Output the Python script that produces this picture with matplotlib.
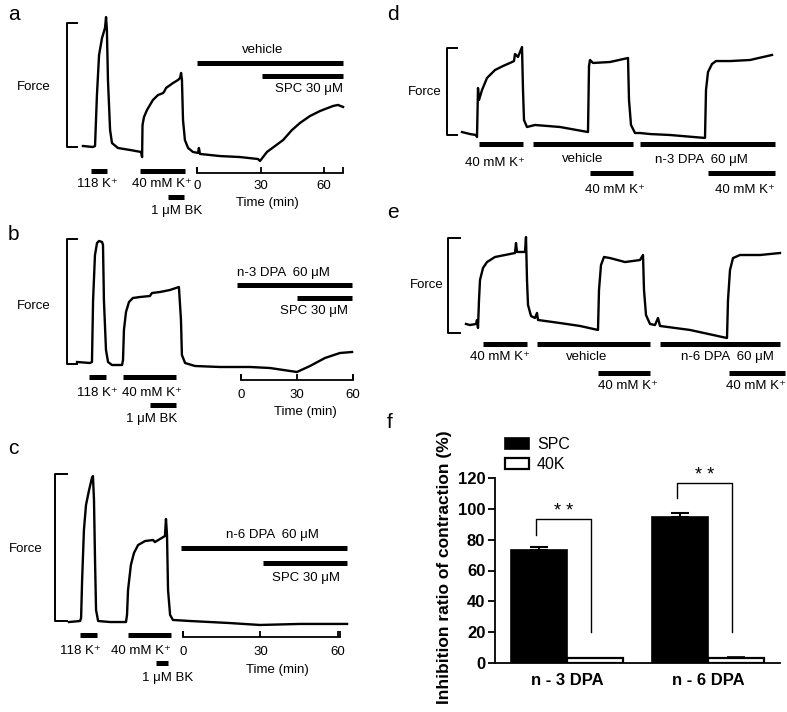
import numpy as np
import matplotlib
matplotlib.use('Agg')
import matplotlib.pyplot as plt

plt.rcParams['font.family'] = ['Liberation Sans', 'DejaVu Sans']

W, H = 787, 712
TXT = 9.5

# ---------------- data ----------------
# traces: time in min (0 = start of treatment), force in % of the scale bar
# panel a: vehicle then SPC
a_time = [-53.8, -49.1, -48.1, -47.2, -46.2, -44.8, -43.4, -42.9, -42.5, -42.0, -41.0, -40.1,
          -37.3, -31.6, -26.4, -25.9, -25.7, -25.0, -23.6, -20.8, -18.4, -16.0, -15.3, -14.6,
          -11.3, -9.0, -8.0, -7.5, -7.1, -6.6, -5.7, -4.2, -1.9, 0.5, 0.9, 1.4, 10.8, 20.3,
          28.8, 29.7, 33.0, 36.8, 40.6, 44.8, 48.6, 53.3, 58.0, 64.2, 66.5, 68.9]
a_force = [0.8, 0.0, 0.8, 41.9, 74.2, 87.9, 96.0, 104.8, 94.4, 54.0, 13.7, 3.2,
           -0.8, -2.4, -4.0, -8.1, 17.7, 24.2, 29.8, 37.9, 41.9, 43.5, 45.2, 47.6,
           51.6, 54.0, 55.6, 59.7, 54.0, 21.8, 5.6, -0.8, -4.0, -4.8, -0.8, -5.6, -7.3, -8.1,
           -9.7, -11.3, -4.0, 0.8, 5.6, 13.7, 19.4, 25.0, 29.0, 33.1, 33.9, 32.3]
a_spans = [(-50.0, -42.5), (-26.9, -5.7), (-13.7, -6.1), (0.0, 68.9), (30.7, 68.9)]
a_names = ['118 K⁺', '40 mM K⁺', '1 μM BK', 'vehicle', 'SPC 30 μM']

# panel b: n-3 DPA then SPC
b_time = [-87.7, -80.7, -79.7, -79.1, -78.1, -77.0, -75.9, -74.3, -73.8, -73.3, -72.2, -71.1,
          -69.0, -63.6, -63.1, -62.6, -61.5, -59.9, -57.8, -54.0, -48.7, -47.6, -43.3, -38.0,
          -33.2, -32.1, -31.6, -29.9, -24.6, -11.2, 4.8, 15.5, 29.9, 36.9, 44.9, 52.9, 59.4]
b_force = [1.6, 0.8, 1.6, 51.0, 87.0, 96.8, 98.4, 97.6, 95.2, 51.0, 11.2, 1.6,
           -0.8, -0.8, 3.2, 27.2, 41.6, 49.6, 52.8, 53.6, 54.4, 56.8, 57.6, 59.2,
           61.6, 35.2, 7.2, 0.8, -1.6, -2.4, -2.4, -3.2, -6.4, -1.6, 4.8, 8.8, 9.6]
b_spans = [(-81.3, -72.2), (-63.1, -34.8), (-48.7, -34.8), (-2.1, 59.4), (29.9, 59.4)]
b_names = ['118 K⁺', '40 mM K⁺', '1 μM BK', 'n-3 DPA  60 μM', 'SPC 30 μM']

# panel c: n-6 DPA then SPC
c_time = [-44.2, -39.9, -39.5, -39.1, -38.4, -37.6, -36.4, -35.3, -34.9, -34.5, -34.1, -33.7,
          -32.9, -28.3, -22.1, -21.7, -21.3, -20.2, -19.0, -17.4, -14.7, -11.6, -10.9, -8.9,
          -7.0, -6.6, -6.2, -5.8, -5.0, -3.9, 2.7, 18.2, 29.8, 45.3, 63.6]
c_force = [-0.7, 0.0, 2.0, 27.9, 61.9, 78.9, 89.1, 97.3, 98.6, 82.3, 41.5, 7.5,
           0.0, -0.7, -0.7, 4.1, 21.1, 38.1, 46.3, 51.7, 54.4, 55.1, 53.7, 55.8,
           57.8, 69.4, 58.5, 21.1, 4.1, 0.7, 0.0, -1.4, -2.7, -2.0, -2.0]
c_spans = [(-39.9, -33.3), (-21.3, -4.7), (-10.5, -5.8), (-0.8, 63.6), (31.0, 63.6)]
c_names = ['118 K⁺', '40 mM K⁺', '1 μM BK', 'n-6 DPA  60 μM', 'SPC 30 μM']

# panel d: 40 mM K+ before/after vehicle and n-3 DPA (time from start of trace)
d_time = [0, 4, 7, 7.5, 8, 8.5, 10, 12.5, 16.5, 20.5, 24, 26, 26.5, 28, 30, 30.5, 31, 32.5,
          36.5, 49, 63, 63.5, 64, 65.5, 74, 83, 83.5, 84.5, 86.5, 89, 94, 104, 121.5,
          122, 123, 125, 127, 134, 144, 155]
d_force = [3.4, 1.1, 0.0, -2.3, 54.0, 40.2, 51.7, 65.5, 74.7, 79.3, 82.8, 85.0, 93.1, 89.7,
           101.1, 51.7, 17.2, 9.2, 11.5, 9.2, 3.4, 79.3, 86.2, 82.8, 83.9, 88.5, 40.2, 11.5,
           2.3, 2.3, 1.1, 0.0, -3.4, 51.7, 72.4, 81.6, 85.0, 85.0, 86.2, 92.0]
d_spans = [(8.5, 30.5), (35.5, 85.5), (89, 156.5), (64, 85.5), (123, 156.5)]
d_names = ['40 mM K⁺', 'vehicle', 'n-3 DPA  60 μM', '40 mM K⁺', '40 mM K⁺']

# panel e: 40 mM K+ before/after vehicle and n-6 DPA
e_time = [0, 2, 5, 5.5, 6, 6.5, 7, 8.5, 10.5, 14.5, 19.5, 24.5, 25, 25.5, 29.5, 30, 30.5, 31,
          32.5, 34.5, 35.5, 36, 47, 57, 66, 66.5, 67.5, 69, 72, 79.5, 87, 88.5, 89, 90, 92,
          94.5, 96, 97, 112, 130.5, 131, 132, 133.5, 137, 147, 157]
e_force = [9.5, 8.4, 9.5, 13.7, 5.3, 34.7, 55.8, 68.4, 74.7, 80.0, 82.1, 84.2, 94.7, 85.3,
           85.3, 101.0, 55.8, 29.5, 17.9, 15.8, 21.1, 13.7, 10.5, 7.4, 3.2, 45.3, 71.6, 80.0,
           78.9, 74.7, 76.8, 82.1, 45.3, 18.9, 9.5, 8.4, 15.8, 7.4, 3.2, -5.3, 34.7, 66.3,
           78.9, 82.1, 82.1, 84.2]
e_spans = [(8.5, 30.5), (35.5, 92), (97, 157), (66, 92), (131.5, 159.5)]
e_names = ['40 mM K⁺', 'vehicle', 'n-6 DPA  60 μM', '40 mM K⁺', '40 mM K⁺']

time_ticks = [0, 30, 60]

# panel f: inhibition ratio (%)
groups = ['n - 3 DPA', 'n - 6 DPA']
spc_mean = [73.0, 95.0]
spc_err = [2.5, 2.5]
k40_mean = [3.0, 3.2]
k40_err = [0.5, 0.5]
sig_left = [83.0, 107.0]
sig_top = [93.5, 116.7]
sig_right = [20.0, 20.0]

# ---------------- figure ----------------
fig = plt.figure(figsize=(W / 100, H / 100), dpi=100)


def trace_axes(box, x0, ppm, ybot, ytop):
    # box in pixels (left, top, right, bottom); x0 = pixel of t=0, ppm = px per min,
    # ybot/ytop = pixel rows of the scale bar ends (0 and 100 %)
    l, t, r, b = box
    ax = fig.add_axes([l / W, 1 - b / H, (r - l) / W, (b - t) / H])
    s = (ybot - ytop) / 100.0
    ax.set_xlim((l - x0) / ppm, (r - x0) / ppm)
    ax.set_ylim((ybot - b) / s, (ybot - t) / s)
    ax.axis('off')
    return ax


def draw_trace(ax, t, f, bracket_x):
    ax.plot(t, f, color='k', lw=1.7, solid_joinstyle='round')
    x1, x2 = bracket_x
    ax.plot([x2, x1, x1, x2], [100, 100, 0, 0], color='k', lw=1.4)


def draw_bars(ax, spans, levels):
    for (t0, t1), lvl in zip(spans, levels):
        ax.plot([t0, t1], [lvl, lvl], color='k', lw=3.6, solid_capstyle='butt')


def time_axis(ax, t_end, lvl, lab_y, title_x, title_y):
    ax.plot([0, t_end], [lvl, lvl], color='k', lw=1.3)
    ax.plot([0, t_end], [lvl, lvl], ls='none', marker=2, ms=4, mew=1.3, color='k')
    ax.plot(time_ticks, [lvl] * len(time_ticks), ls='none', marker=2, ms=4, mew=1.3, color='k')
    for tk in time_ticks:
        ax.text(tk, lab_y, str(tk), ha='center', va='center', fontsize=TXT)
    ax.text(title_x, title_y, 'Time (min)', ha='center', va='center', fontsize=TXT)


# panel a
ax = trace_axes((0, 0, 380, 225), 197, 2.12, 147, 23)
draw_trace(ax, a_time, a_force, (-61.3, -56.6))
draw_bars(ax, a_spans, [-19.4, -19.4, -40.3, 67.7, 57.3])
time_axis(ax, 68.9, -21.0, -31.5, 33.0, -45.2)
ax.text(-76.9, 48.4, 'Force', ha='center', va='center', fontsize=TXT)
ax.text(-47.2, -29.8, a_names[0], ha='center', va='center', fontsize=TXT)
ax.text(-16.5, -29.8, a_names[1], ha='center', va='center', fontsize=TXT)
ax.text(-9.4, -51.6, a_names[2], ha='center', va='center', fontsize=TXT)
ax.text(31.1, 78.2, a_names[3], ha='center', va='center', fontsize=TXT)
ax.text(68.9, 46.8, a_names[4], ha='right', va='center', fontsize=TXT)

# panel b
ax = trace_axes((0, 225, 380, 440), 241, 1.87, 364, 239)
draw_trace(ax, b_time, b_force, (-93.0, -87.7))
draw_bars(ax, b_spans, [-10.4, -10.4, -32.8, 63.2, 52.8])
time_axis(ax, 60.0, -12.8, -24.8, 34.2, -38.4)
ax.text(-110.7, 46.4, 'Force', ha='center', va='center', fontsize=TXT)
ax.text(-77.0, -23.2, b_names[0], ha='center', va='center', fontsize=TXT)
ax.text(-47.6, -23.2, b_names[1], ha='center', va='center', fontsize=TXT)
ax.text(-47.6, -44.0, b_names[2], ha='center', va='center', fontsize=TXT)
ax.text(22.5, 72.8, b_names[3], ha='center', va='center', fontsize=TXT)
ax.text(57.2, 42.4, b_names[4], ha='right', va='center', fontsize=TXT)

# panel c
ax = trace_axes((0, 440, 380, 712), 183, 2.58, 621, 474)
draw_trace(ax, c_time, c_force, (-49.6, -45.0))
draw_bars(ax, c_spans, [-9.5, -9.5, -28.6, 49.7, 39.5])
time_axis(ax, 60.9, -10.9, -21.1, 36.4, -33.3)
ax.text(-60.9, 49.0, 'Force', ha='center', va='center', fontsize=TXT)
ax.text(-39.9, -20.4, c_names[0], ha='center', va='center', fontsize=TXT)
ax.text(-16.3, -20.4, c_names[1], ha='center', va='center', fontsize=TXT)
ax.text(-5.8, -38.8, c_names[2], ha='center', va='center', fontsize=TXT)
ax.text(34.5, 58.5, c_names[3], ha='center', va='center', fontsize=TXT)
ax.text(60.9, 29.3, c_names[4], ha='right', va='center', fontsize=TXT)

# panel d
ax = trace_axes((380, 0, 787, 205), 462, 2.0, 135, 48)
draw_trace(ax, d_time, d_force, (-7.5, -2.5))
draw_bars(ax, d_spans, [-10.3, -10.3, -10.3, -43.7, -43.7])
ax.text(-18.5, 49.4, 'Force', ha='center', va='center', fontsize=TXT)
ax.text(16.5, -32.2, d_names[0], ha='center', va='center', fontsize=TXT)
ax.text(60.5, -27.6, d_names[1], ha='center', va='center', fontsize=TXT)
ax.text(119.5, -28.7, d_names[2], ha='center', va='center', fontsize=TXT)
ax.text(76.5, -63.2, d_names[3], ha='center', va='center', fontsize=TXT)
ax.text(141.5, -63.2, d_names[4], ha='center', va='center', fontsize=TXT)

# panel e
ax = trace_axes((380, 205, 787, 400), 466, 2.0, 333, 238)
draw_trace(ax, e_time, e_force, (-9.0, -3.0))
draw_bars(ax, e_spans, [-11.6, -11.6, -11.6, -42.1, -42.1])
ax.text(-19.5, 50.5, 'Force', ha='center', va='center', fontsize=TXT)
ax.text(17.0, -25.3, e_names[0], ha='center', va='center', fontsize=TXT)
ax.text(60.5, -25.3, e_names[1], ha='center', va='center', fontsize=TXT)
ax.text(130.5, -25.3, e_names[2], ha='center', va='center', fontsize=TXT)
ax.text(81.0, -55.8, e_names[3], ha='center', va='center', fontsize=TXT)
ax.text(145.0, -55.8, e_names[4], ha='center', va='center', fontsize=TXT)

# panel f
axf = fig.add_axes([495 / W, 1 - 663 / H, 285 / W, 185 / H])
x = np.arange(len(groups))
w = 0.40
axf.bar(x - w / 2, spc_mean, w, color='k', edgecolor='k', lw=1.2, label='SPC')
axf.bar(x + w / 2, k40_mean, w, color='white', edgecolor='k', lw=1.6, label='40K')
axf.errorbar(x - w / 2, spc_mean, yerr=[np.zeros(len(x)), spc_err], fmt='none', ecolor='k',
             capsize=6.5, elinewidth=1.5, capthick=1.5)
axf.errorbar(x + w / 2, k40_mean, yerr=[np.zeros(len(x)), k40_err], fmt='none', ecolor='k',
             capsize=6.5, elinewidth=1.2, capthick=1.2)
for i in range(len(groups)):
    xl = x[i] - 0.22
    xr = x[i] + 0.17
    axf.plot([xl, xl, xr, xr], [sig_left[i], sig_top[i], sig_top[i], sig_right[i]],
             color='k', lw=1.0, clip_on=False)
    axf.text((xl + xr) / 2, sig_top[i] - 0.5, '* *', ha='center', va='bottom', fontsize=13)
axf.set_xlim(-0.51, 1.51)
axf.set_ylim(0, 120)
axf.set_yticks(np.arange(0, 121, 20))
axf.set_xticks(x)
axf.set_xticklabels(groups, fontsize=12, fontweight='bold')
axf.tick_params(axis='x', length=0, pad=7)
axf.tick_params(axis='y', direction='out', length=5, width=1.3, labelsize=12, pad=2)
for lab in axf.get_yticklabels():
    lab.set_fontweight('bold')
for side in ['top', 'right']:
    axf.spines[side].set_visible(False)
for side in ['left', 'bottom']:
    axf.spines[side].set_linewidth(1.3)
axf.set_ylabel('Inhibition ratio of contraction (%)', fontsize=12.5, fontweight='bold')
axf.yaxis.set_label_coords(-0.15, 0.52)
axf.legend(loc='upper left', bbox_to_anchor=(0.035, 1.22), frameon=False, fontsize=11.5,
           handlelength=1.5, handleheight=0.7, handletextpad=0.5, labelspacing=0.3,
           borderpad=0, borderaxespad=0)

# panel letters
for letter, px, py in [('a', 8, 15), ('b', 8, 235), ('c', 8, 449),
                       ('d', 387, 15), ('e', 387, 213), ('f', 387, 423)]:
    fig.text(px / W, 1 - py / H, letter, ha='left', va='center', fontsize=15)

fig.savefig('out.png', dpi=100)
